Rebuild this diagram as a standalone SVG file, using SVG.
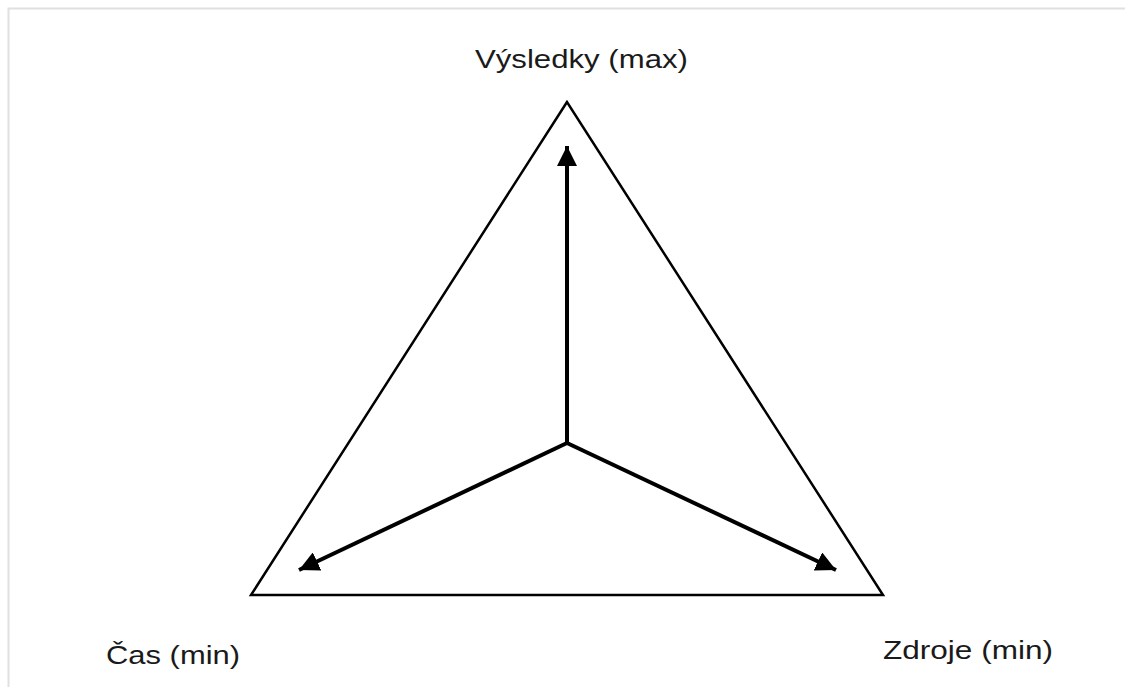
<svg xmlns="http://www.w3.org/2000/svg" width="1125" height="687" viewBox="0 0 1125 687">
<style>
.lbl{font-family:"Liberation Sans",Arial,sans-serif;font-size:26px;fill:#1a1a1a}
.edge{fill:none;stroke:#000;stroke-width:2.5}
.arr{fill:none;stroke:#000;stroke-width:4}
</style>
<defs>
<marker id="ah" viewBox="0 0 10 10" refX="10" refY="5" markerWidth="5" markerHeight="5" orient="auto" markerUnits="strokeWidth">
<path d="M0,0 L10,5 L0,10 Z" fill="#000"/>
</marker>
</defs>
<rect width="1125" height="687" fill="#fff"/>
<path d="M8.5,687 L8.5,8.5 L1125,8.5" fill="none" stroke="#e0e0e0" stroke-width="2"/>
<g id="triangle">
<polygon class="edge" points="567,102 251,595 883,595"/>
</g>
<g id="connectors">
<line class="arr" x1="567" y1="443" x2="567" y2="146" marker-end="url(#ah)"/>
<line class="arr" x1="567" y1="443" x2="299" y2="570" marker-end="url(#ah)"/>
<line class="arr" x1="567" y1="443" x2="836" y2="570" marker-end="url(#ah)"/>
</g>
<g id="node-vysledky"><text class="lbl" x="475" y="68" textLength="213" lengthAdjust="spacingAndGlyphs">Výsledky (max)</text></g>
<g id="node-cas"><text class="lbl" x="106" y="664" textLength="134" lengthAdjust="spacingAndGlyphs">Čas (min)</text></g>
<g id="node-zdroje"><text class="lbl" x="883" y="659" textLength="170" lengthAdjust="spacingAndGlyphs">Zdroje (min)</text></g>
</svg>
